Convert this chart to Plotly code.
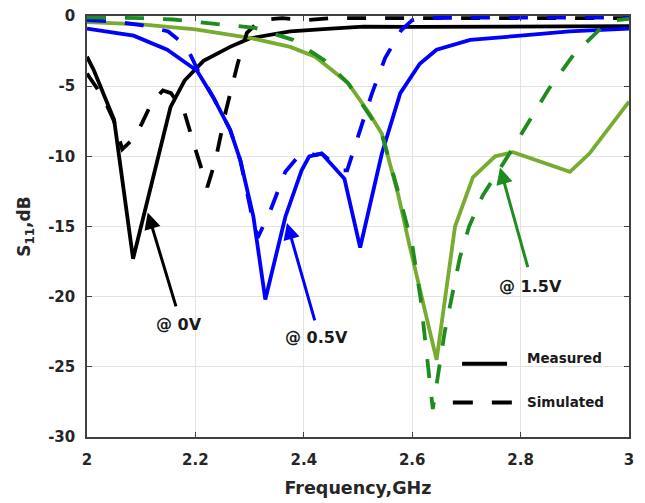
import plotly.graph_objects as go

# ---- S11 data (frequency in GHz, S11 in dB) ----
f_0v_meas = [2.0, 2.013, 2.05, 2.085, 2.154, 2.18, 2.215, 2.264, 2.30, 2.375, 2.45, 2.51, 2.6, 2.7, 2.8, 2.9, 3.0]
s_0v_meas = [-2.9, -3.9, -7.4, -17.3, -6.5, -4.6, -3.2, -2.2, -1.6, -1.1, -0.9, -0.75, -0.78, -0.78, -0.76, -0.74, -0.72]

f_0v_sim = [2.0, 2.03, 2.05, 2.065, 2.087, 2.102, 2.119, 2.140, 2.155, 2.18, 2.20, 2.222, 2.237, 2.256, 2.278, 2.295, 2.32,
            2.36, 2.40, 2.45, 2.5, 2.55, 2.6, 2.7, 2.8, 2.9, 3.0]
s_0v_sim = [-4.1, -5.8, -7.5, -9.5, -8.7, -7.6, -6.2, -5.3, -5.5, -6.9, -9.5, -12.2, -10.3, -6.8, -3.4, -1.2, -0.3,
            -0.15, -0.3, -0.15, -0.15, -0.15, -0.15, -0.15, -0.15, -0.15, -0.15]

f_05v_meas = [2.0, 2.086, 2.148, 2.203, 2.233, 2.264, 2.283, 2.307, 2.329, 2.366, 2.396, 2.41, 2.433, 2.461, 2.475,
              2.504, 2.544, 2.578, 2.614, 2.645, 2.707, 2.80, 2.89, 3.0]
s_05v_meas = [-0.9, -1.4, -2.4, -3.9, -5.8, -8.1, -10.3, -14.3, -20.2, -14.3, -11.0, -10.0, -9.8, -11.0, -11.6,
              -16.5, -9.8, -5.5, -3.4, -2.4, -1.7, -1.4, -1.1, -0.9]

f_05v_sim = [2.0, 2.05, 2.1, 2.15, 2.175, 2.19, 2.205, 2.233, 2.264, 2.283, 2.303, 2.315, 2.338, 2.366, 2.39, 2.405,
             2.42, 2.433, 2.47, 2.48, 2.50, 2.525, 2.55, 2.58, 2.60, 2.62, 2.7, 2.8, 2.9, 3.0]
s_05v_sim = [-0.3, -0.4, -0.65, -1.1, -1.9, -2.7, -3.9, -5.8, -8.1, -10.3, -14.0, -15.8, -13.9, -11.1, -10.0, -9.7,
             -9.9, -9.8, -11.0, -11.0, -8.6, -5.6, -3.0, -1.0, -0.3, -0.15, -0.12, -0.12, -0.12, -0.12]

f_15v_meas = [2.0, 2.1, 2.2, 2.3, 2.375, 2.421, 2.45, 2.482, 2.522, 2.544, 2.574, 2.596, 2.645, 2.679, 2.712, 2.753,
              2.786, 2.83, 2.891, 2.927, 3.0]
s_15v_meas = [-0.43, -0.6, -0.95, -1.55, -2.2, -2.9, -3.8, -4.8, -7.0, -8.4, -12.7, -16.5, -24.5, -15.0, -11.5, -10.0,
              -9.7, -10.3, -11.1, -9.8, -6.1]

f_15v_sim = [2.0, 2.1, 2.16, 2.24, 2.31, 2.38, 2.44, 2.482, 2.544, 2.574, 2.60, 2.615, 2.627, 2.638, 2.66, 2.688,
             2.705, 2.73, 2.773, 2.815, 2.852, 2.897, 2.95, 2.975, 3.0]
s_15v_sim = [-0.1, -0.15, -0.25, -0.55, -0.85, -1.7, -3.2, -4.8, -8.4, -12.5, -16.3, -20.0, -24.0, -28.0, -22.5, -17.2,
             -15.0, -12.8, -10.2, -7.5, -5.2, -2.8, -0.8, -0.3, -0.2]

x_ticks = [2, 2.2, 2.4, 2.6, 2.8, 3]
x_tick_labels = ["2", "2.2", "2.4", "2.6", "2.8", "3"]
y_ticks = [-30, -25, -20, -15, -10, -5, 0]
y_tick_labels = ["-30", "-25", "-20", "-15", "-10", "-5", "0"]

# bias-voltage labels: (text, label position, arrow tail, arrow head, colour)
bias_labels = [
    ("@ 0V", (2.170, -22.0), (2.165, -20.8), (2.112, -14.0), "#000000"),
    ("@ 0.5V", (2.424, -22.9), (2.421, -21.8), (2.369, -14.75), "#0000FF"),
    ("@ 1.5V", (2.818, -19.3), (2.814, -18.0), (2.762, -10.8), "#1E8C1E"),
]

BLACK = "#000000"
BLUE = "#0000FF"
LIGHT_GREEN = "#77AC30"
DARK_GREEN = "#1E8C1E"
LW = 3.8
DASH = "19px,19px"
FONT = "DejaVu Sans"

fig = go.Figure()

series = [
    (f_0v_meas, s_0v_meas, BLACK, "solid"),
    (f_05v_meas, s_05v_meas, BLUE, "solid"),
    (f_15v_meas, s_15v_meas, LIGHT_GREEN, "solid"),
    (f_0v_sim, s_0v_sim, BLACK, DASH),
    (f_05v_sim, s_05v_sim, BLUE, DASH),
    (f_15v_sim, s_15v_sim, DARK_GREEN, DASH),
]
for fx, sy, col, dash in series:
    fig.add_trace(go.Scatter(x=fx, y=sy, mode="lines", showlegend=False,
                             line=dict(color=col, width=LW, dash=dash), hoverinfo="skip"))

annotations = []
for text, (lx, ly), (tx, ty), (hx, hy), col in bias_labels:
    annotations.append(dict(x=hx, y=hy, ax=tx, ay=ty, xref="x", yref="y", axref="x", ayref="y",
                            text="", showarrow=True, arrowhead=2, arrowsize=1.1, arrowwidth=3,
                            arrowcolor=col))
    annotations.append(dict(x=lx, y=ly, xref="x", yref="y", text=text, showarrow=False,
                            font=dict(family=FONT, size=16, color="#1a1a1a", weight="bold")))

# legend (line style key)
annotations.append(dict(x=0.809, y=0.165, xref="paper", yref="paper", text="Measured", showarrow=False,
                        xanchor="left", font=dict(family=FONT, size=13.5, color="#1a1a1a", weight="bold")))
annotations.append(dict(x=0.809, y=0.059, xref="paper", yref="paper", text="Simulated", showarrow=False,
                        xanchor="left", font=dict(family=FONT, size=13.5, color="#1a1a1a", weight="bold")))
shapes = [
    dict(type="line", xref="paper", yref="paper", x0=0.692, x1=0.775, y0=0.174, y1=0.174,
         line=dict(color=BLACK, width=4)),
    dict(type="line", xref="paper", yref="paper", x0=0.675, x1=0.784, y0=0.082, y1=0.082,
         line=dict(color=BLACK, width=4, dash="20px,19px")),
]

axis_common = dict(
    showgrid=True, gridcolor="#e3e3e3", gridwidth=1,
    showline=True, linecolor="#404040", linewidth=1.5, mirror="allticks",
    ticks="inside", ticklen=5, tickcolor="#404040", tickwidth=1,
    tickfont=dict(family=FONT, size=15, color="#262626", weight="bold"),
    zeroline=False, automargin=False,
)

fig.update_layout(
    width=645, height=503,
    margin=dict(l=87, r=16, t=16, b=66),
    paper_bgcolor="white", plot_bgcolor="white",
    xaxis=dict(range=[2, 3], tickvals=x_ticks, ticktext=x_tick_labels, ticklabelstandoff=8,
               title=dict(text="Frequency,GHz", standoff=14,
                          font=dict(family=FONT, size=17.5, color="#262626", weight="bold")),
               **axis_common),
    yaxis=dict(range=[-30, 0], tickvals=y_ticks, ticktext=y_tick_labels, ticklabelstandoff=7,
               title=dict(text="S<sub>11</sub>,dB", standoff=13,
                          font=dict(family=FONT, size=17, color="#262626", weight="bold")),
               **axis_common),
    annotations=annotations,
    shapes=shapes,
    showlegend=False,
)

fig.write_html("out.html")
